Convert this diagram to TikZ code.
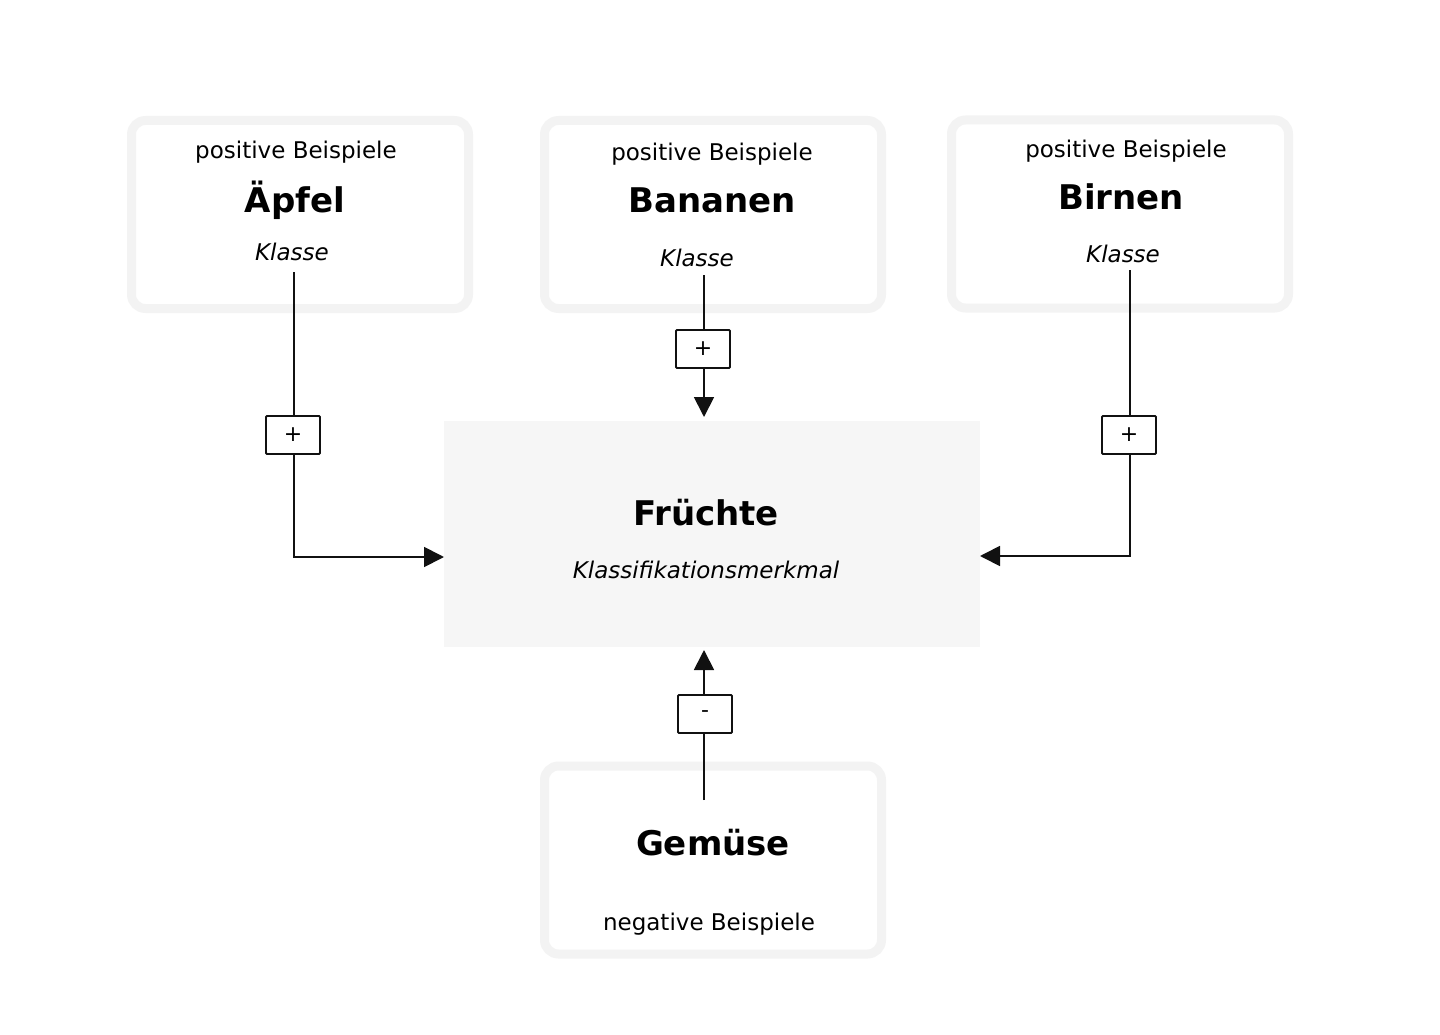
\documentclass[tikz,border=0pt]{standalone}
\usepackage{fontspec}
\setmainfont{DejaVu Sans}
\usetikzlibrary{arrows.meta}
\definecolor{frameGray}{RGB}{243,243,243}
\definecolor{centerGray}{RGB}{246,246,246}
\definecolor{lineBlack}{RGB}{17,17,17}
\tikzset{
  grpbox/.style={draw=frameGray, line width=9pt, rounded corners=14pt, minimum width=337pt, minimum height=188pt, inner sep=0pt},
  centerbox/.style={fill=centerGray, draw=none, minimum width=536pt, minimum height=226pt, inner sep=0pt},
  regtxt/.style={font=\fontsize{23}{27}\selectfont, anchor=base, inner sep=0pt},
  itxt/.style={font=\fontsize{23}{27}\selectfont\itshape, anchor=base, inner sep=0pt},
  btxt/.style={font=\fontsize{34}{40}\selectfont\bfseries, anchor=base, inner sep=0pt},
  signbox/.style={draw=lineBlack, line width=1.8pt, rounded corners=1pt, minimum width=54pt, minimum height=38pt, inner sep=0pt, fill=white, font=\fontsize{22}{26}\selectfont},
  conn/.style={draw=lineBlack, line width=1.8pt},
  arrowconn/.style={conn, -{Triangle[length=20pt,width=20pt]}}
}
\begin{document}
\begin{tikzpicture}[x=1pt,y=-1pt]
\useasboundingbox (0,0) rectangle (1440,1035);
\fill[white] (0,0) rectangle (1440,1035);

% group boxes
\node[grpbox] (bA) at (300,214.5) {};
\node[grpbox] (bB) at (713,214.5) {};
\node[grpbox] (bC) at (1120,214) {};
\node[grpbox] (bG) at (713,860) {};

% center box
\node[centerbox] (fr) at (712,534) {};

% texts in Äpfel box
\node[regtxt] (tA1) at (296,159) {positive Beispiele};
\node[btxt]   (tA2) at (295,212) {Äpfel};
\node[itxt]   (tA3) at (292,260) {Klasse};

% texts in Bananen box
\node[regtxt] (tB1) at (712,161) {positive Beispiele};
\node[btxt]   (tB2) at (712,213) {Bananen};
\node[itxt]   (tB3) at (697,266) {Klasse};

% texts in Birnen box
\node[regtxt] (tC1) at (1126,158) {positive Beispiele};
\node[btxt]   (tC2) at (1121,210) {Birnen};
\node[itxt]   (tC3) at (1123,262) {Klasse};

% texts in center box
\node[btxt] (tF1) at (706,525) {Früchte};
\node[itxt] (tF2) at (706,578) {Klassifikationsmerkmal};

% texts in Gemüse box
\node[btxt]   (tG1) at (713,855) {Gemüse};
\node[regtxt] (tG2) at (709,930) {negative Beispiele};

% sign boxes
\node[signbox] (pA) at (293,435) {+};
\node[signbox] (pB) at (703,349) {+};
\node[signbox] (pC) at (1129,435) {+};
\node[signbox] (pG) at (705,714) {-};

% connector coordinates
\coordinate (sA) at (294,272);
\coordinate (eA) at (444,557);
\coordinate (sB) at (704,275);
\coordinate (eB) at (704,417);
\coordinate (sC) at (1130,270);
\coordinate (eC) at (980,556);
\coordinate (sG) at (704,800);
\coordinate (eG) at (704,650);

% connectors
\draw[conn] (sA) -- (sA |- pA.north);
\draw[arrowconn] (sA |- pA.south) |- (eA);
\draw[conn] (sB) -- (sB |- pB.north);
\draw[arrowconn] (sB |- pB.south) -- (eB);
\draw[conn] (sC) -- (sC |- pC.north);
\draw[arrowconn] (sC |- pC.south) |- (eC);
\draw[conn] (sG) -- (sG |- pG.south);
\draw[arrowconn] (sG |- pG.north) -- (eG);
\end{tikzpicture}
\end{document}
